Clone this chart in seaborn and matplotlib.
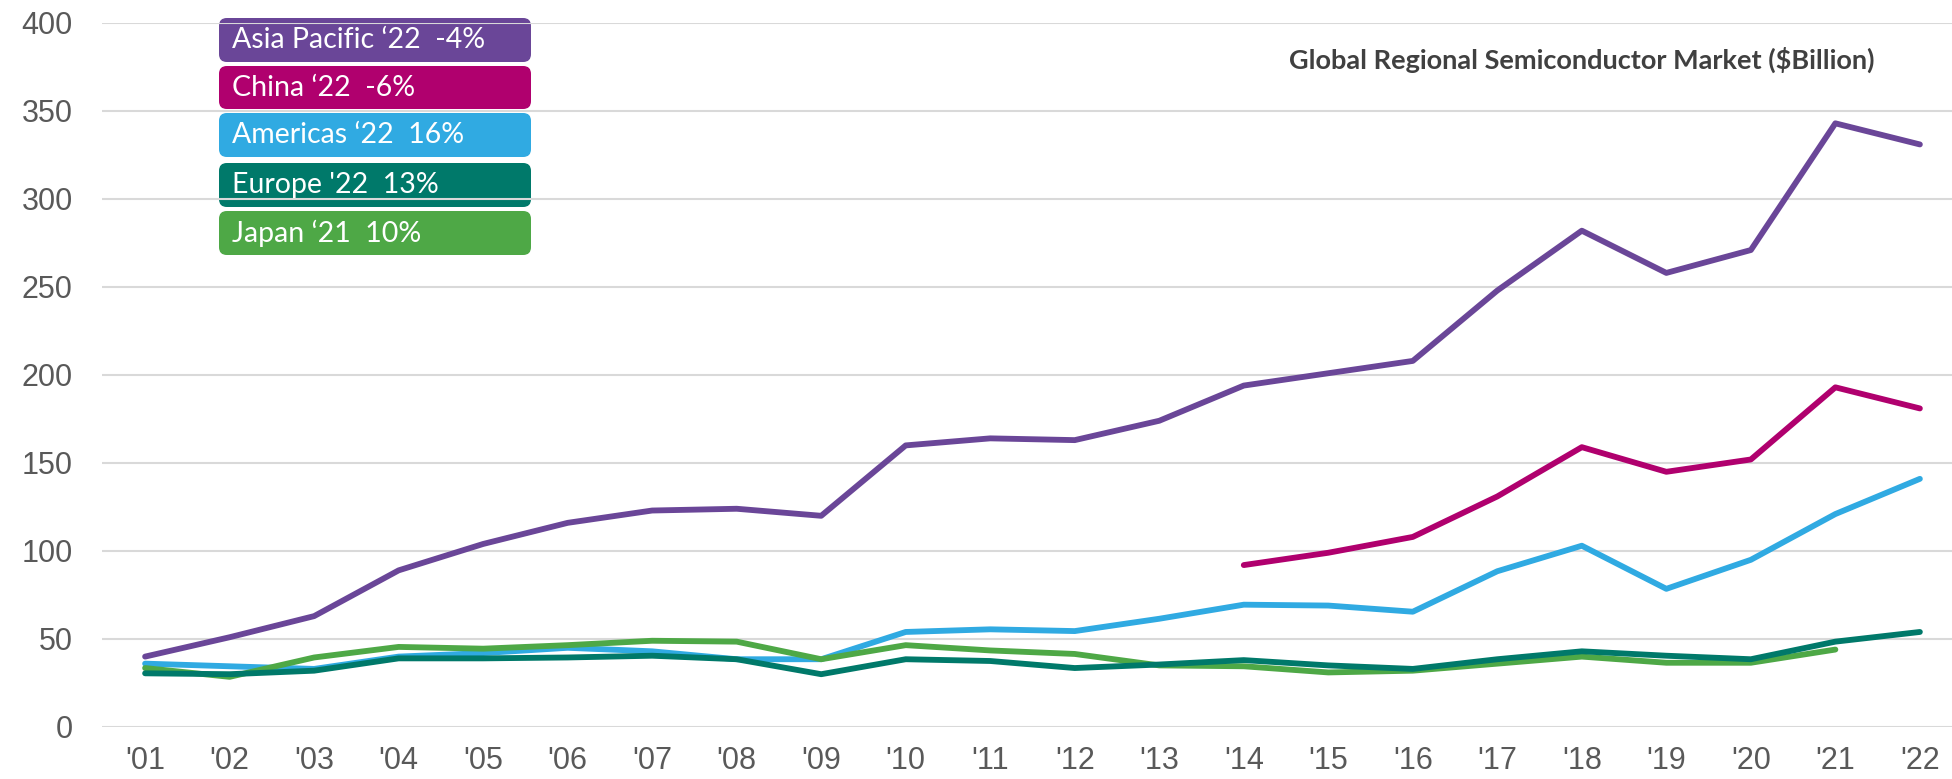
import numpy as np
import pandas as pd
import matplotlib
matplotlib.use("Agg")
import matplotlib.pyplot as plt
from matplotlib.patches import FancyBboxPatch
import seaborn as sns

# ---- data ----
years = ["'01", "'02", "'03", "'04", "'05", "'06", "'07", "'08", "'09", "'10", "'11",
         "'12", "'13", "'14", "'15", "'16", "'17", "'18", "'19", "'20", "'21", "'22"]
asia_pacific = [40, 51, 63, 89, 104, 116, 123, 124, 120, 160, 164, 163, 174, 194, 201,
                208, 248, 282, 258, 271, 343, 331]
china = [np.nan] * 13 + [92, 99, 108, 131, 159, 145, 152, 193, 181]
americas = [36, 34.5, 33, 40, 42, 45, 43, 38.5, 38.5, 54, 55.5, 54.5, 61.5, 69.5, 69,
            65.5, 88.5, 103, 78.5, 95, 121, 141]
japan = [33.5, 28.5, 39.5, 45.5, 44.5, 46.5, 49, 48.5, 38.5, 46.5, 43.5, 41.5, 35, 34.5,
         31, 32, 36, 40, 36.5, 36.5, 44, np.nan]
europe = [30.5, 30, 32, 39, 39, 39.5, 40.5, 38.5, 30, 38.5, 37.5, 33.5, 35.5, 38, 35, 33,
          38.5, 43, 40.5, 38.5, 48.5, 54]

regions = ["Asia Pacific", "China", "Americas", "Japan", "Europe"]
legend_labels = ["Asia Pacific \u201822  -4%", "China \u201822  -6%", "Americas \u201822  16%",
                 "Europe '22  13%", "Japan \u201821  10%"]
legend_regions = ["Asia Pacific", "China", "Americas", "Europe", "Japan"]
y_ticks = [0, 50, 100, 150, 200, 250, 300, 350, 400]
title = "Global Regional Semiconductor Market ($Billion)"

colors = {"Asia Pacific": "#6A4698", "China": "#B0006E", "Americas": "#30AAE2",
          "Europe": "#00796A", "Japan": "#4EA846"}

series = {"Asia Pacific": asia_pacific, "China": china, "Americas": americas,
          "Japan": japan, "Europe": europe}
rows = []
for r in regions:
    for i, v in enumerate(series[r]):
        rows.append({"idx": i, "year": years[i], "region": r, "value": v})
df = pd.DataFrame(rows).dropna()

# ---- figure ----
sns.set_theme(style="white")
plt.rcParams["font.family"] = ["Liberation Sans", "DejaVu Sans"]

W, H = 1952, 779
fig = plt.figure(figsize=(W / 100, H / 100), dpi=100)
ax = fig.add_axes([102 / W, 1 - 727 / H, 1 - 102 / W, (727 - 23) / H])

sns.lineplot(data=df, x="idx", y="value", hue="region", hue_order=regions,
             palette=colors, linewidth=4.2, legend=False, sort=False, ax=ax,
             solid_capstyle="round")

ax.set_ylim(0, 400)
ax.set_xlim(-0.51, 21.38)
ax.set_yticks(y_ticks)
ax.set_xticks(range(len(years)))
ax.set_xticklabels(years)
ax.set_xlabel("")
ax.set_ylabel("")
for s in ax.spines.values():
    s.set_visible(False)
ax.set_axisbelow(True)
ax.grid(axis="y", color="#D9D9D9", linewidth=1.5)
ax.grid(axis="x", visible=False)
ax.tick_params(axis="y", length=0, pad=21, labelsize=22, labelcolor="#595959")
ax.tick_params(axis="x", length=0, pad=14, labelsize=22, labelcolor="#595959")

# title
fig.text(1289 / W, 1 - 60 / H, title, fontsize=19.5, fontweight="bold",
         family=["Lato", "DejaVu Sans"], color="#404040", va="center", ha="left")

# legend boxes
box_rows = [(18, 62), (66, 109), (113, 157), (163, 207), (211, 255)]
x0, x1 = 219, 531
for (t, b), lab, reg in zip(box_rows, legend_labels, legend_regions):
    p = FancyBboxPatch((x0 / W, 1 - b / H), (x1 - x0) / W, (b - t) / H,
                       boxstyle="round,pad=0,rounding_size=0.004",
                       transform=fig.transFigure, facecolor=colors[reg],
                       edgecolor="none", zorder=0.3, clip_on=False,
                       mutation_aspect=W / H)
    ax.add_patch(p)
    ax.text(232 / W, 1 - (t + b) / 2 / H, lab, transform=fig.transFigure,
            color="white", fontsize=20.5, family=["Lato", "DejaVu Sans"],
            fontweight="normal", va="center", ha="left", zorder=5, clip_on=False)

fig.savefig("out.png", dpi=100)
